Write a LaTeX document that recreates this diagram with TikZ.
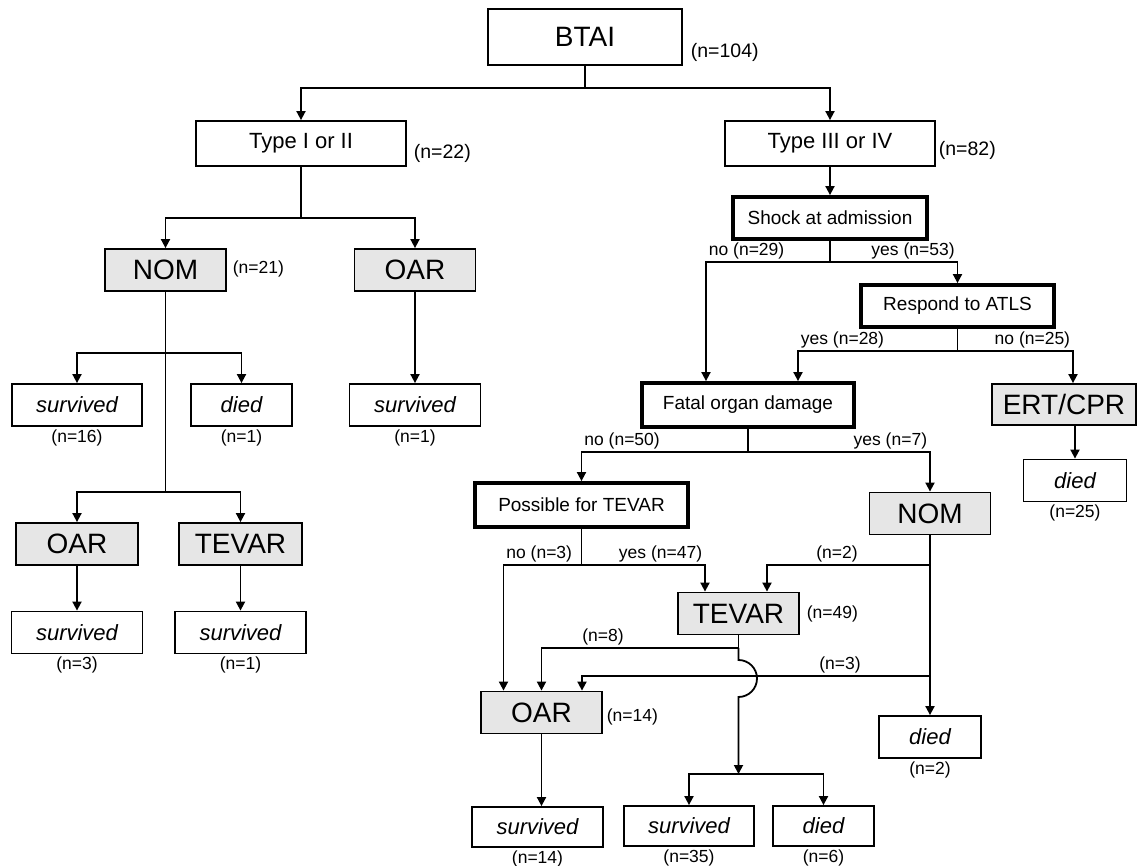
\documentclass[tikz,border=0pt]{standalone}
\usepackage{fontspec}
\setmainfont{Liberation Sans}
\usetikzlibrary{arrows.meta}
\definecolor{treatgray}{RGB}{230,230,230}

\begin{document}
\begin{tikzpicture}[x=0.5pt, y=-0.5pt,
    >={Triangle[length=4.5pt,width=4.5pt]},
    line width=0.9pt,
    box/.style={draw, line width=0.9pt, fill=white, inner sep=0pt, minimum height=21pt},
    typebox/.style={box, minimum width=105pt, minimum height=22.5pt, font=\fontsize{11}{13}\selectfont},
    treat/.style={box, fill=treatgray, minimum width=60.5pt, font=\fontsize{14}{16}\selectfont},
    decide/.style={box, line width=1.9pt, font=\fontsize{9.5}{11}\selectfont},
    outcome/.style={box, font=\fontsize{11}{13}\selectfont\itshape},
    nlab/.style={inner sep=1pt, font=\fontsize{8.75}{10}\selectfont},
    nbig/.style={nlab, font=\fontsize{9.75}{11}\selectfont}]
    \useasboundingbox (0,0) rectangle (1137,866);

    % top levels
    \node[box, minimum width=97pt, minimum height=28pt, font=\fontsize{14}{16}\selectfont] (btai) at (585,37) {BTAI};
    \node[nbig, anchor=west] (nBtai) at (688,52) {(n=104)};
    \node[typebox] (typeA) at (301,143.5) {Type I or II};
    \node[nbig, anchor=west] (nTypeA) at (411,153) {(n=22)};
    \node[typebox] (typeB) at (830,143.5) {Type III or IV};
    \node[nbig, anchor=west] (nTypeB) at (936,150) {(n=82)};

    % type I or II
    \node[treat] (nomA) at (165.5,270) {NOM};
    \node[nlab, anchor=west] (nNomA) at (230,269) {(n=21)};
    \node[treat] (oarA) at (415,270) {OAR};
    \node[outcome, minimum width=65pt] (survA) at (77,405) {survived};
    \node[outcome, minimum width=50.5pt] (diedA) at (241.5,405) {died};
    \node[outcome, minimum width=65.5pt] (survB) at (415,405) {survived};
    \node[treat, minimum width=61pt] (oarB) at (77,544) {OAR};
    \node[treat, minimum width=61.5pt] (tevA) at (240.5,544) {TEVAR};
    \node[outcome, minimum width=65.5pt] (survC) at (77,632.5) {survived};
    \node[outcome, minimum width=65.5pt] (survD) at (240.5,632.5) {survived};

    % type III or IV
    \node[decide, minimum width=97pt] (shock) at (830,218) {Shock at admission};
    \node[decide, minimum width=96.5pt] (atls) at (957.5,306) {Respond to ATLS};
    \node[decide, minimum width=106pt, minimum height=22pt] (organ) at (748,405) {Fatal organ damage};
    \node[treat, minimum width=72pt, minimum height=20.5pt] (ert) at (1064,404.5) {ERT/CPR};
    \node[outcome, minimum width=51.5pt] (diedE) at (1075,480.5) {died};
    \node[decide, minimum width=106.5pt, minimum height=22pt] (tevok) at (581.5,505) {Possible for TEVAR};
    \node[treat] (nomB) at (930,513.5) {NOM};
    \node[treat] (tevB) at (738.5,613.5) {TEVAR};
    \node[nlab, anchor=west] (nTevB) at (804,614) {(n=49)};
    \node[treat] (oarC) at (541.5,712.5) {OAR};
    \node[nlab, anchor=west] (nOarC) at (604,717) {(n=14)};
    \node[outcome, minimum width=51pt] (diedN) at (930,737) {died};
    \node[outcome, minimum width=65.5pt, minimum height=20pt] (survE) at (537.5,827) {survived};
    \node[outcome, minimum width=65pt, minimum height=20pt] (survF) at (689,826) {survived};
    \node[outcome, minimum width=50.5pt, minimum height=20pt] (diedF) at (823.5,826) {died};

    % counts below the outcomes
    \node[nlab, anchor=north] (nSurvA) at (survA.south) {(n=16)};
    \node[nlab, anchor=north] (nDiedA) at (diedA.south) {(n=1)};
    \node[nlab, anchor=north] (nSurvB) at (survB.south) {(n=1)};
    \node[nlab, anchor=north] (nSurvC) at (survC.south) {(n=3)};
    \node[nlab, anchor=north] (nSurvD) at (survD.south) {(n=1)};
    \node[nlab, anchor=north] (nDiedE) at (diedE.south) {(n=25)};
    \node[nlab, anchor=north] (nDiedN) at (diedN.south) {(n=2)};
    \node[nlab, anchor=north] (nSurvE) at (survE.south) {(n=14)};
    \node[nlab, anchor=north] (nSurvF) at (survF.south) {(n=35)};
    \node[nlab, anchor=north] (nDiedF) at (diedF.south) {(n=6)};

    % branch points
    \coordinate (barTop) at (585,88);
    \coordinate (barA) at (301,218);
    \coordinate (barN1) at (165.5,353);
    \coordinate (barN2) at (165.5,492);
    \coordinate (barS) at (830,262);
    \coordinate (barR) at (957.5,351);
    \coordinate (barO) at (748,452);
    \coordinate (barP) at (581.5,565);
    \coordinate (barX) at (930,676);
    \coordinate (barT) at (738.5,648);
    \coordinate (hop) at (738.5,660);
    \coordinate (barF) at (738.5,774);

    \draw[->] (btai) -- (barTop) -| (typeA);
    \draw[->] (barTop) -| (typeB);

    \draw (typeA) -- (barA);
    \draw[->] (barA) -| (nomA);
    \draw[->] (barA) -| (oarA);
    \draw (nomA) -- (barN2);
    \draw[->] (barN1) -| (survA);
    \draw[->] (barN1) -| (diedA);
    \draw[->] (barN2) -| (oarB);
    \draw[->] (barN2) -| (tevA);
    \draw[->] (oarA) -- (survB);
    \draw[->] (oarB) -- (survC);
    \draw[->] (tevA) -- (survD);

    \draw[->] (typeB) -- (shock);
    \draw (shock) -- (barS);
    \draw[->] (barS) -| ([xshift=-21pt]organ.north);
    \draw[->] (barS) -| (atls);
    \node[nlab, anchor=south west] (lShockNo) at (706,262) {no (n=29)};
    \node[nlab, anchor=south east] (lShockYes) at (957.5,262) {yes (n=53)};

    \draw (atls) -- (barR);
    \draw[->] (barR) -| ([xshift=25pt]organ.north);
    \draw[->] (barR) -| ([xshift=4.5pt]ert.north);
    \node[nlab, anchor=south west] (lAtlsYes) at (798,351) {yes (n=28)};
    \node[nlab, anchor=south east] (lAtlsNo) at (1073,351) {no (n=25)};
    \draw[->] ([xshift=5.5pt]ert.south) -- (diedE);

    \draw (organ) -- (barO);
    \draw[->] (barO) -| (tevok);
    \draw[->] (barO) -| (nomB);
    \node[nlab, anchor=south west] (lOrganNo) at (581.5,452) {no (n=50)};
    \node[nlab, anchor=south east] (lOrganYes) at (930,452) {yes (n=7)};

    \draw (tevok) -- (barP);
    \draw[->] (barP) -| ([xshift=-19pt]oarC.north);
    \draw[->] (barP) -| ([xshift=-16.75pt]tevB.north);
    \node[nlab, anchor=south west] (lTevokNo) at (503.5,565) {no (n=3)};
    \node[nlab, anchor=south east] (lTevokYes) at (705,565) {yes (n=47)};

    \draw[->] (nomB) -- (diedN);
    \draw[->] (nomB |- barP) -| ([xshift=14.25pt]tevB.north);
    \node[nlab, anchor=south] (lNomTev) at (837,565) {(n=2)};
    \draw[->] (barX) -| ([xshift=20.25pt]oarC.north);
    \node[nlab, anchor=south] (lNomOar) at (840,676) {(n=3)};

    \draw (tevB) -- (barT);
    \draw[->] (barT) -| (oarC);
    \node[nlab, anchor=south] (lTevOar) at (603,648) {(n=8)};
    \draw[->] (barT) -- (hop) arc[start angle=90, end angle=-90, radius=9.25pt] -- (barF);
    \draw[->] (barF) -| (survF);
    \draw[->] (barF) -| (diedF);
    \draw[->] (oarC) -- (oarC |- survE.north);
\end{tikzpicture}
\end{document}
